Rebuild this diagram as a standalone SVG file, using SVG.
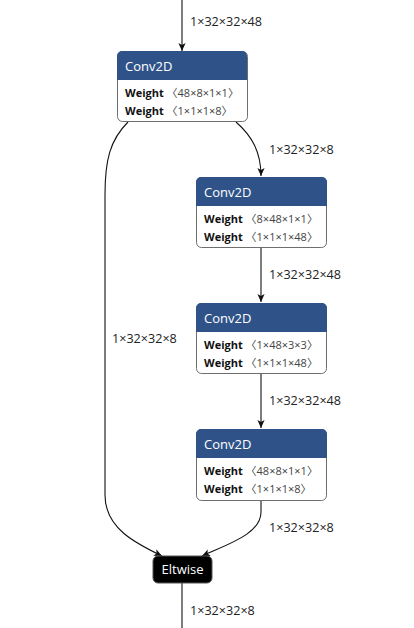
<svg xmlns="http://www.w3.org/2000/svg" width="414" height="628" viewBox="0 0 414 628">
<style>
.hdr{fill:#2f5389}
.box{fill:#fff;stroke:#6e6e6e;stroke-width:1}
.title{font-family:"Open Sans","Noto Sans",sans-serif;font-size:13px;fill:#fff}
.w{font-family:"Open Sans","Noto Sans","Noto Sans CJK SC",sans-serif;font-size:11px;fill:#111}
.wb{font-weight:bold}
.wv{fill:#444}
.lbl{font-family:"Open Sans","Noto Sans",sans-serif;font-size:12.6px;fill:#222}
.edge{fill:none;stroke:#111;stroke-width:1.1}
</style>
<defs>
<marker id="arr" viewBox="0 0 10 10" refX="10" refY="5" markerWidth="8" markerHeight="8" markerUnits="userSpaceOnUse" orient="auto">
<path d="M0,0.5 L10,5 L0,9.5 L2.5,5 Z" fill="#111"/>
</marker>
</defs>
<g id="connectors">
<path class="edge" d="M182,0 L182,51" marker-end="url(#arr)"/>
<path class="edge" d="M236,122 C252,136 261,152 261,176" marker-end="url(#arr)"/>
<path class="edge" d="M128,122 C110,140 105,160 105,195 L105,495 C105,528 135,543 162,556" marker-end="url(#arr)"/>
<path class="edge" d="M261,248 L261,302" marker-end="url(#arr)"/>
<path class="edge" d="M261,374 L261,428" marker-end="url(#arr)"/>
<path class="edge" d="M261,501 L261,512 C261,534 228,544 202,556" marker-end="url(#arr)"/>
<path class="edge" d="M182,583 L182,628"/>
<text class="lbl" x="190" y="26">1×32×32×48</text>
<text class="lbl" x="269" y="154">1×32×32×8</text>
<text class="lbl" x="112" y="343">1×32×32×8</text>
<text class="lbl" x="269" y="279">1×32×32×48</text>
<text class="lbl" x="269" y="405">1×32×32×48</text>
<text class="lbl" x="269" y="532">1×32×32×8</text>
<text class="lbl" x="190" y="615">1×32×32×8</text>
</g>
<g id="conv1">
<rect class="box" x="117.5" y="51.5" width="130" height="70" rx="5"/>
<path class="hdr" d="M117,56 a5,5 0 0 1 5,-5 h120 a5,5 0 0 1 5,5 v24 h-130 z"/>
<text class="title" x="125" y="71">Conv2D</text>
<text class="w" x="125" y="97"><tspan class="wb">Weight</tspan><tspan class="wv"> 〈48×8×1×1〉</tspan></text>
<text class="w" x="125" y="115"><tspan class="wb">Weight</tspan><tspan class="wv"> 〈1×1×1×8〉</tspan></text>
</g>
<g id="conv2">
<rect class="box" x="196.5" y="177.5" width="130" height="70" rx="5"/>
<path class="hdr" d="M196,182 a5,5 0 0 1 5,-5 h121 a5,5 0 0 1 5,5 v24 h-131 z"/>
<text class="title" x="204" y="197">Conv2D</text>
<text class="w" x="204" y="223"><tspan class="wb">Weight</tspan><tspan class="wv"> 〈8×48×1×1〉</tspan></text>
<text class="w" x="204" y="241"><tspan class="wb">Weight</tspan><tspan class="wv"> 〈1×1×1×48〉</tspan></text>
</g>
<g id="conv3">
<rect class="box" x="196.5" y="303.5" width="130" height="70" rx="5"/>
<path class="hdr" d="M196,308 a5,5 0 0 1 5,-5 h121 a5,5 0 0 1 5,5 v24 h-131 z"/>
<text class="title" x="204" y="323">Conv2D</text>
<text class="w" x="204" y="349"><tspan class="wb">Weight</tspan><tspan class="wv"> 〈1×48×3×3〉</tspan></text>
<text class="w" x="204" y="367"><tspan class="wb">Weight</tspan><tspan class="wv"> 〈1×1×1×48〉</tspan></text>
</g>
<g id="conv4">
<rect class="box" x="196.5" y="429.5" width="130" height="71" rx="5"/>
<path class="hdr" d="M196,434 a5,5 0 0 1 5,-5 h121 a5,5 0 0 1 5,5 v24 h-131 z"/>
<text class="title" x="204" y="449">Conv2D</text>
<text class="w" x="204" y="475"><tspan class="wb">Weight</tspan><tspan class="wv"> 〈48×8×1×1〉</tspan></text>
<text class="w" x="204" y="493"><tspan class="wb">Weight</tspan><tspan class="wv"> 〈1×1×1×8〉</tspan></text>
</g>
<g id="eltwise">
<rect x="153" y="556" width="59" height="27" rx="5" fill="#000" stroke="#555" stroke-width="1"/>
<text class="title" x="182.5" y="574" text-anchor="middle">Eltwise</text>
</g>
</svg>
